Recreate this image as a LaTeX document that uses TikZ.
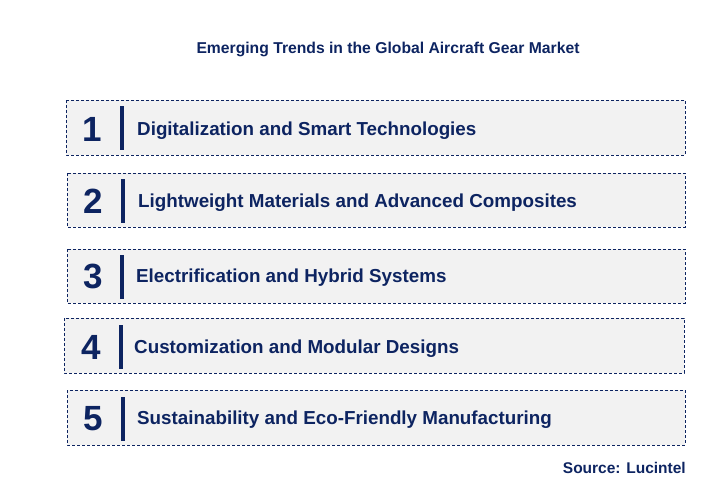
\documentclass[tikz,border=0pt]{standalone}
\usepackage{fontspec}
\setmainfont{Liberation Sans}
\definecolor{navy}{HTML}{0D2461}
\definecolor{boxfill}{HTML}{F2F2F2}
\tikzset{
  trendbox/.style={draw=navy, fill=boxfill, dash pattern=on 3pt off 2pt, line width=0.9pt},
  numlabel/.style={text=navy, font=\fontsize{35}{37}\selectfont\bfseries, anchor=center, inner sep=0pt},
  trendtext/.style={text=navy, font=\fontsize{18.8}{21}\selectfont\bfseries, anchor=west, inner sep=0pt},
  sepbar/.style={draw=navy, line width=3.5pt},
}
\begin{document}
\begin{tikzpicture}[x=1pt,y=-1pt]
\useasboundingbox (0,0) rectangle (712,501);
\node[text=navy, font=\fontsize{15.7}{17}\selectfont\bfseries, inner sep=0pt] (title) at (388,49) {Emerging Trends in the Global Aircraft Gear Market};
% box 1
\draw[trendbox] (66,100) rectangle (685,155);
\node[numlabel] (n1) at (92,129.5) {1};
\coordinate (b1t) at (122,106); \coordinate (b1b) at (122,150);
\draw[sepbar] (b1t) -- (b1b);
\node[trendtext] (t1) at (137,131) {Digitalization and Smart Technologies};
% box 2
\draw[trendbox] (67,173) rectangle (685,227);
\node[numlabel] (n2) at (93,201.5) {2};
\coordinate (b2t) at (123,179); \coordinate (b2b) at (123,223);
\draw[sepbar] (b2t) -- (b2b);
\node[trendtext] (t2) at (138,203) {Lightweight Materials and Advanced Composites};
% box 3
\draw[trendbox] (67,249) rectangle (685,303);
\node[numlabel] (n3) at (93,276.5) {3};
\coordinate (b3t) at (122,255); \coordinate (b3b) at (122,299);
\draw[sepbar] (b3t) -- (b3b);
\node[trendtext] (t3) at (136,278) {Electrification and Hybrid Systems};
% box 4
\draw[trendbox] (64,318) rectangle (684,373);
\node[numlabel] (n4) at (91,347.5) {4};
\coordinate (b4t) at (121,325); \coordinate (b4b) at (121,369);
\draw[sepbar] (b4t) -- (b4b);
\node[trendtext] (t4) at (134,349) {Customization and Modular Designs};
% box 5
\draw[trendbox] (67,390) rectangle (685,445);
\node[numlabel] (n5) at (93,418.5) {5};
\coordinate (b5t) at (123,397); \coordinate (b5b) at (123,441);
\draw[sepbar] (b5t) -- (b5b);
\node[trendtext] (t5) at (137,420) {Sustainability and Eco-Friendly Manufacturing};
\node[text=navy, font=\fontsize{15.5}{17}\selectfont\bfseries, anchor=east, inner sep=0pt] (src) at (686,468) {Source: Lucintel};
\end{tikzpicture}
\end{document}
